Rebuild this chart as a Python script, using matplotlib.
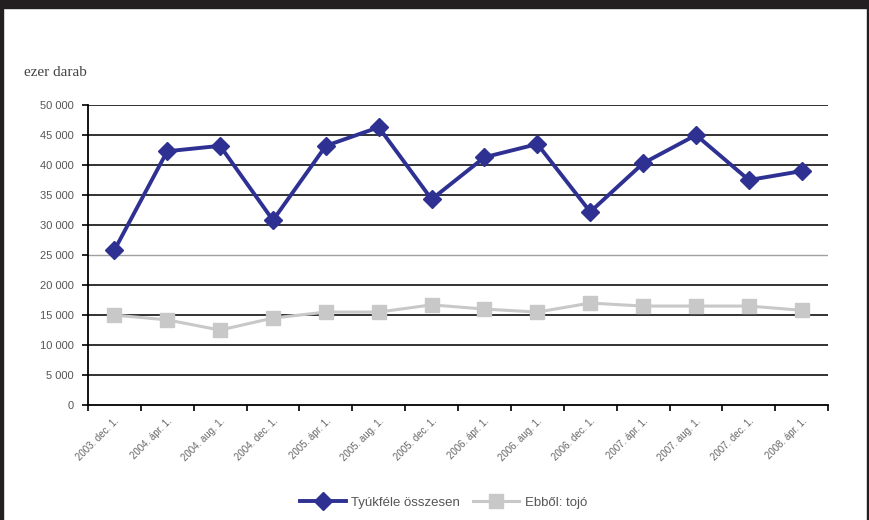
import matplotlib
matplotlib.use("Agg")
import matplotlib.pyplot as plt
from matplotlib.patches import Rectangle
import numpy as np

plt.rcParams['font.family'] = ['Liberation Sans', 'DejaVu Sans']

# census dates (best guess, labels are unreadable in the scan)
dates = ["2003. dec. 1.", "2004. ápr. 1.", "2004. aug. 1.", "2004. dec. 1.",
         "2005. ápr. 1.", "2005. aug. 1.", "2005. dec. 1.", "2006. ápr. 1.",
         "2006. aug. 1.", "2006. dec. 1.", "2007. ápr. 1.", "2007. aug. 1.",
         "2007. dec. 1.", "2008. ápr. 1."]
osszesen = [25800, 42300, 43200, 30800, 43200, 46300, 34300,
            41300, 43500, 32200, 40300, 45000, 37500, 39000]
tojo = [15000, 14200, 12500, 14500, 15500, 15500, 16700,
        16000, 15500, 17000, 16500, 16500, 16500, 15800]
yticks = list(range(0, 50001, 5000))

fig = plt.figure(figsize=(8.7, 5.2), dpi=100)
ax = fig.add_axes([0.101, 0.221, 0.851, 0.577])

x = np.arange(len(dates))

# gridlines
for v in yticks[1:]:
    if v == 25000:
        ax.axhline(v, color="#a0a0a0", lw=1.0, zorder=1)
    else:
        ax.axhline(v, color="#222222", lw=1.3, zorder=1)

ax.plot(x, osszesen, color="#2e3192", lw=2.8, marker="D", ms=9,
        label="Tyúkféle összesen", zorder=3)
ax.plot(x, tojo, color="#c8c8c8", lw=2.2, marker="s", ms=10,
        label="Ebből: tojó", zorder=2)

ax.set_xlim(-0.5, len(dates) - 0.5)
ax.set_ylim(0, 50000)
ax.set_yticks(yticks)
ax.set_yticklabels([f"{v:,}".replace(",", " ") for v in yticks],
                   fontsize=8, color="#555555")
ax.set_xticks(np.arange(-0.5, len(dates) + 0.5, 1), minor=False)
ax.set_xticklabels([])
ax.set_xticks(x, minor=True)
ax.set_xticklabels(dates, minor=True, rotation=45, ha="right",
                   rotation_mode="anchor", fontsize=7, color="#666666")
ax.tick_params(axis="x", which="minor", length=0, pad=8)
ax.tick_params(axis="x", which="major", length=4, width=1.2, direction="out")
ax.tick_params(axis="y", length=4, width=1.2, direction="out", pad=6)

for s in ["top", "right"]:
    ax.spines[s].set_visible(False)
ax.spines["left"].set_linewidth(1.3)
ax.spines["bottom"].set_linewidth(1.3)

fig.text(0.028, 0.853, "ezer darab", fontsize=11, color="#444444",
         family=["Liberation Serif", "DejaVu Serif"])

ax.legend(loc="upper center", bbox_to_anchor=(0.48, -0.265), ncol=2,
          frameon=False, fontsize=9.5, handlelength=3.5, columnspacing=1.0,
          handletextpad=0.4, labelcolor="#555555")

# page frame
fig.add_artist(Rectangle((0, 0.985), 1, 0.015, transform=fig.transFigure,
                         color="#231f20", zorder=10))
fig.add_artist(Rectangle((0, 0), 0.004, 1, transform=fig.transFigure,
                         color="#231f20", zorder=10))
fig.add_artist(Rectangle((0.996, 0), 0.004, 1, transform=fig.transFigure,
                         color="#231f20", zorder=10))

fig.savefig("out.png", dpi=100)
